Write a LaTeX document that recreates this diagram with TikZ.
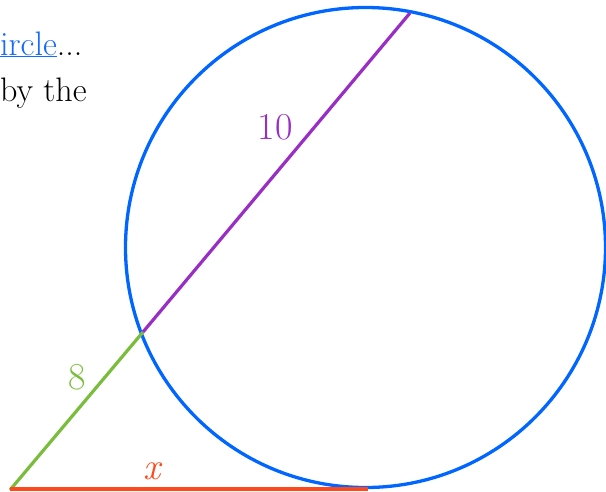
\documentclass[tikz,border=0pt]{standalone}
\definecolor{cblue}{RGB}{0,102,255}
\definecolor{cpurple}{RGB}{153,46,196}
\definecolor{cgreen}{RGB}{122,188,60}
\definecolor{cred}{RGB}{255,72,28}
\definecolor{clink}{RGB}{20,105,255}
\begin{document}
\begin{tikzpicture}[x=1pt,y=-1pt,
  seg/.style={line width=3.2pt},
  lbl/.style={inner sep=0pt,anchor=base,font=\fontsize{38}{40}\selectfont},
  txt/.style={inner sep=0pt,anchor=base west,font=\fontsize{34}{38}\selectfont}]
\useasboundingbox (0,0) rectangle (606,491);
\begin{scope}
\clip (0,0) rectangle (606,491);
\node[circle,draw=cblue,line width=3.3pt,minimum size=480pt,inner sep=0pt] (O) at (365.5,247.5) {};
\coordinate (A) at (10,490);
\coordinate (B) at (143,332);
\coordinate (C) at (410,13);
\coordinate (T) at (368,489);
\draw[seg,cgreen] (A) -- (B);
\draw[seg,cpurple] (B) -- (C);
\draw[seg,cred] (A |- T) -- (T);
\node[lbl,text=cpurple] (l10) at (275,139) {10};
\node[lbl,text=cgreen] (l8) at (77,389) {8};
\node[lbl,text=cred] (lx) at (153,479) {\textit{x}};
\node[txt] (t1) at (0,55) {\textcolor{clink}{\underline{ircle}}...};
\node[txt] (t2) at (0,101) {by the};
\end{scope}
\end{tikzpicture}
\end{document}
